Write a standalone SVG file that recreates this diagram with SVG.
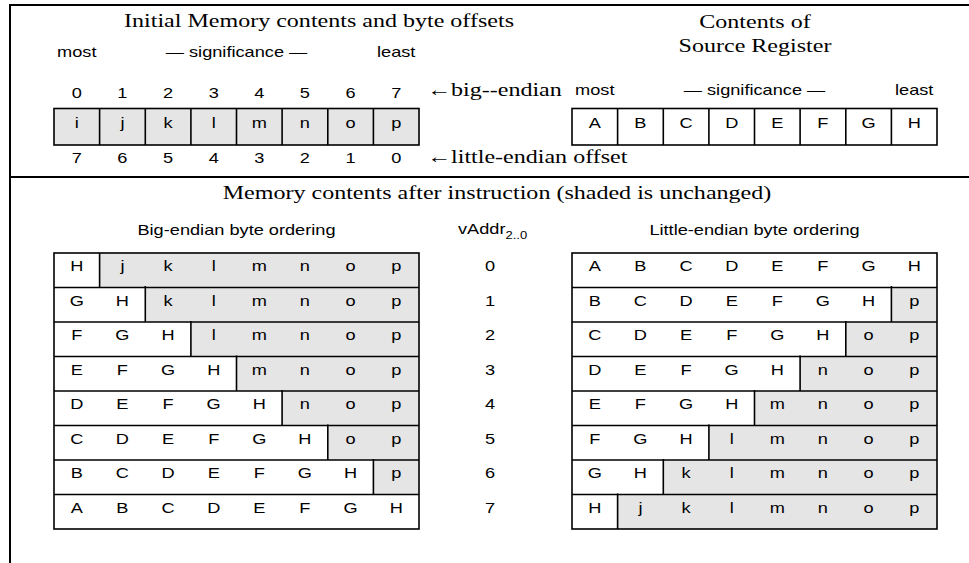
<svg xmlns="http://www.w3.org/2000/svg" width="969" height="563" viewBox="0 0 969 563">
<style>
.s{font-family:"Liberation Sans",Arial,sans-serif;font-size:14px;text-anchor:middle;fill:#000}
.sl{font-family:"Liberation Sans",Arial,sans-serif;font-size:14px;text-anchor:start;fill:#000}
.t{font-family:"Liberation Serif","Times New Roman",serif;font-size:18.5px;text-anchor:middle;fill:#000}
.tl{font-family:"Liberation Serif","Times New Roman",serif;font-size:18.5px;text-anchor:start;fill:#000}
.frame{stroke:#000;stroke-width:2;fill:none}
.box{stroke:#000;stroke-width:1.6;fill:none}
.sh{fill:#e5e5e5;stroke:none}
.dv{stroke:#000;stroke-width:1.6}
</style>
<g id="frame">
<line class="frame" x1="10" y1="5" x2="969" y2="5"/>
<line class="frame" x1="10" y1="4" x2="10" y2="563"/>
<line class="frame" x1="10" y1="177" x2="969" y2="177"/>
</g>
<g id="headings">
<text class="t" transform="matrix(1.3 0 0 1 319 27)">Initial Memory contents and byte offsets</text>
<text class="t" transform="matrix(1.3 0 0 1 755 28)">Contents of</text>
<text class="t" transform="matrix(1.3 0 0 1 755 52)">Source Register</text>
<text class="s" transform="matrix(1.3 0 0 1 76.8 57)">most</text>
<text class="s" transform="matrix(1.3 0 0 1 236.5 57)">— significance —</text>
<text class="s" transform="matrix(1.3 0 0 1 396.2 57)">least</text>
<text class="s" transform="matrix(1.3 0 0 1 594.8 95)">most</text>
<text class="s" transform="matrix(1.3 0 0 1 754.5 95)">— significance —</text>
<text class="s" transform="matrix(1.3 0 0 1 914.2 95)">least</text>
<text class="tl" transform="matrix(1.3 0 0 1 427 96)">←big--endian</text>
<text class="tl" transform="matrix(1.3 0 0 1 427 163)">←little-endian offset</text>
<text class="t" transform="matrix(1.3 0 0 1 497 199)">Memory contents after instruction (shaded is unchanged)</text>
<text class="s" transform="matrix(1.3 0 0 1 236.5 235)">Big-endian byte ordering</text>
<text class="sl" transform="matrix(1.3 0 0 1 458 234)">vAddr<tspan font-size="10" dy="5">2..0</tspan></text>
<text class="s" transform="matrix(1.3 0 0 1 754.5 235)">Little-endian byte ordering</text>
</g>
<g id="offsets">
<text class="s" transform="matrix(1.3 0 0 1 76.8 98)">0</text>
<text class="s" transform="matrix(1.3 0 0 1 122.4 98)">1</text>
<text class="s" transform="matrix(1.3 0 0 1 168.1 98)">2</text>
<text class="s" transform="matrix(1.3 0 0 1 213.7 98)">3</text>
<text class="s" transform="matrix(1.3 0 0 1 259.3 98)">4</text>
<text class="s" transform="matrix(1.3 0 0 1 304.9 98)">5</text>
<text class="s" transform="matrix(1.3 0 0 1 350.6 98)">6</text>
<text class="s" transform="matrix(1.3 0 0 1 396.2 98)">7</text>
<text class="s" transform="matrix(1.3 0 0 1 76.8 163)">7</text>
<text class="s" transform="matrix(1.3 0 0 1 122.4 163)">6</text>
<text class="s" transform="matrix(1.3 0 0 1 168.1 163)">5</text>
<text class="s" transform="matrix(1.3 0 0 1 213.7 163)">4</text>
<text class="s" transform="matrix(1.3 0 0 1 259.3 163)">3</text>
<text class="s" transform="matrix(1.3 0 0 1 304.9 163)">2</text>
<text class="s" transform="matrix(1.3 0 0 1 350.6 163)">1</text>
<text class="s" transform="matrix(1.3 0 0 1 396.2 163)">0</text>
</g>
<g id="initial-memory">
<rect class="sh" x="54" y="108.5" width="365" height="36.5"/>
<rect class="box" x="54" y="108.5" width="365" height="36.5"/>
<path class="dv" d="M99.6 108.5V145M145.3 108.5V145M190.9 108.5V145M236.5 108.5V145M282.1 108.5V145M327.8 108.5V145M373.4 108.5V145"/>
<text class="s" transform="matrix(1.3 0 0 1 76.8 128)">i</text>
<text class="s" transform="matrix(1.3 0 0 1 122.4 128)">j</text>
<text class="s" transform="matrix(1.3 0 0 1 168.1 128)">k</text>
<text class="s" transform="matrix(1.3 0 0 1 213.7 128)">l</text>
<text class="s" transform="matrix(1.3 0 0 1 259.3 128)">m</text>
<text class="s" transform="matrix(1.3 0 0 1 304.9 128)">n</text>
<text class="s" transform="matrix(1.3 0 0 1 350.6 128)">o</text>
<text class="s" transform="matrix(1.3 0 0 1 396.2 128)">p</text>
</g>
<g id="source-register">
<rect class="box" x="572" y="108.5" width="365" height="36.5" fill="#fff"/>
<path class="dv" d="M617.6 108.5V145M663.3 108.5V145M708.9 108.5V145M754.5 108.5V145M800.1 108.5V145M845.8 108.5V145M891.4 108.5V145"/>
<text class="s" transform="matrix(1.3 0 0 1 594.8 128)">A</text>
<text class="s" transform="matrix(1.3 0 0 1 640.4 128)">B</text>
<text class="s" transform="matrix(1.3 0 0 1 686.1 128)">C</text>
<text class="s" transform="matrix(1.3 0 0 1 731.7 128)">D</text>
<text class="s" transform="matrix(1.3 0 0 1 777.3 128)">E</text>
<text class="s" transform="matrix(1.3 0 0 1 822.9 128)">F</text>
<text class="s" transform="matrix(1.3 0 0 1 868.6 128)">G</text>
<text class="s" transform="matrix(1.3 0 0 1 914.2 128)">H</text>
</g>
<g id="vaddr">
<text class="s" transform="matrix(1.3 0 0 1 490 271)">0</text>
<text class="s" transform="matrix(1.3 0 0 1 490 305.5)">1</text>
<text class="s" transform="matrix(1.3 0 0 1 490 340)">2</text>
<text class="s" transform="matrix(1.3 0 0 1 490 374.5)">3</text>
<text class="s" transform="matrix(1.3 0 0 1 490 409)">4</text>
<text class="s" transform="matrix(1.3 0 0 1 490 443.5)">5</text>
<text class="s" transform="matrix(1.3 0 0 1 490 478)">6</text>
<text class="s" transform="matrix(1.3 0 0 1 490 512.5)">7</text>
</g>
<g id="big-endian-table">
<rect class="sh" x="99.6" y="253" width="319.4" height="34.5"/>
<rect class="sh" x="145.3" y="287.5" width="273.7" height="34.5"/>
<rect class="sh" x="190.9" y="322" width="228.1" height="34.5"/>
<rect class="sh" x="236.5" y="356.5" width="182.5" height="34.5"/>
<rect class="sh" x="282.1" y="391" width="136.9" height="34.5"/>
<rect class="sh" x="327.8" y="425.5" width="91.2" height="34.5"/>
<rect class="sh" x="373.4" y="460" width="45.6" height="34.5"/>
<rect class="box" x="54" y="253" width="365" height="276"/>
<path class="dv" d="M54 287.5H419M54 322H419M54 356.5H419M54 391H419M54 425.5H419M54 460H419M54 494.5H419"/>
<path class="dv" d="M99.6 253V287.5M145.3 286V322M190.9 321V356.5M236.5 355.5V391M282.1 390V425.5M327.8 424.5V460M373.4 459V494.5"/>
<g class="s">
<text class="s" transform="matrix(1.3 0 0 1 76.8 271)">H</text><text class="s" transform="matrix(1.3 0 0 1 122.4 271)">j</text><text class="s" transform="matrix(1.3 0 0 1 168.1 271)">k</text><text class="s" transform="matrix(1.3 0 0 1 213.7 271)">l</text><text class="s" transform="matrix(1.3 0 0 1 259.3 271)">m</text><text class="s" transform="matrix(1.3 0 0 1 304.9 271)">n</text><text class="s" transform="matrix(1.3 0 0 1 350.6 271)">o</text><text class="s" transform="matrix(1.3 0 0 1 396.2 271)">p</text>
<text class="s" transform="matrix(1.3 0 0 1 76.8 305.5)">G</text><text class="s" transform="matrix(1.3 0 0 1 122.4 305.5)">H</text><text class="s" transform="matrix(1.3 0 0 1 168.1 305.5)">k</text><text class="s" transform="matrix(1.3 0 0 1 213.7 305.5)">l</text><text class="s" transform="matrix(1.3 0 0 1 259.3 305.5)">m</text><text class="s" transform="matrix(1.3 0 0 1 304.9 305.5)">n</text><text class="s" transform="matrix(1.3 0 0 1 350.6 305.5)">o</text><text class="s" transform="matrix(1.3 0 0 1 396.2 305.5)">p</text>
<text class="s" transform="matrix(1.3 0 0 1 76.8 340)">F</text><text class="s" transform="matrix(1.3 0 0 1 122.4 340)">G</text><text class="s" transform="matrix(1.3 0 0 1 168.1 340)">H</text><text class="s" transform="matrix(1.3 0 0 1 213.7 340)">l</text><text class="s" transform="matrix(1.3 0 0 1 259.3 340)">m</text><text class="s" transform="matrix(1.3 0 0 1 304.9 340)">n</text><text class="s" transform="matrix(1.3 0 0 1 350.6 340)">o</text><text class="s" transform="matrix(1.3 0 0 1 396.2 340)">p</text>
<text class="s" transform="matrix(1.3 0 0 1 76.8 374.5)">E</text><text class="s" transform="matrix(1.3 0 0 1 122.4 374.5)">F</text><text class="s" transform="matrix(1.3 0 0 1 168.1 374.5)">G</text><text class="s" transform="matrix(1.3 0 0 1 213.7 374.5)">H</text><text class="s" transform="matrix(1.3 0 0 1 259.3 374.5)">m</text><text class="s" transform="matrix(1.3 0 0 1 304.9 374.5)">n</text><text class="s" transform="matrix(1.3 0 0 1 350.6 374.5)">o</text><text class="s" transform="matrix(1.3 0 0 1 396.2 374.5)">p</text>
<text class="s" transform="matrix(1.3 0 0 1 76.8 409)">D</text><text class="s" transform="matrix(1.3 0 0 1 122.4 409)">E</text><text class="s" transform="matrix(1.3 0 0 1 168.1 409)">F</text><text class="s" transform="matrix(1.3 0 0 1 213.7 409)">G</text><text class="s" transform="matrix(1.3 0 0 1 259.3 409)">H</text><text class="s" transform="matrix(1.3 0 0 1 304.9 409)">n</text><text class="s" transform="matrix(1.3 0 0 1 350.6 409)">o</text><text class="s" transform="matrix(1.3 0 0 1 396.2 409)">p</text>
<text class="s" transform="matrix(1.3 0 0 1 76.8 443.5)">C</text><text class="s" transform="matrix(1.3 0 0 1 122.4 443.5)">D</text><text class="s" transform="matrix(1.3 0 0 1 168.1 443.5)">E</text><text class="s" transform="matrix(1.3 0 0 1 213.7 443.5)">F</text><text class="s" transform="matrix(1.3 0 0 1 259.3 443.5)">G</text><text class="s" transform="matrix(1.3 0 0 1 304.9 443.5)">H</text><text class="s" transform="matrix(1.3 0 0 1 350.6 443.5)">o</text><text class="s" transform="matrix(1.3 0 0 1 396.2 443.5)">p</text>
<text class="s" transform="matrix(1.3 0 0 1 76.8 478)">B</text><text class="s" transform="matrix(1.3 0 0 1 122.4 478)">C</text><text class="s" transform="matrix(1.3 0 0 1 168.1 478)">D</text><text class="s" transform="matrix(1.3 0 0 1 213.7 478)">E</text><text class="s" transform="matrix(1.3 0 0 1 259.3 478)">F</text><text class="s" transform="matrix(1.3 0 0 1 304.9 478)">G</text><text class="s" transform="matrix(1.3 0 0 1 350.6 478)">H</text><text class="s" transform="matrix(1.3 0 0 1 396.2 478)">p</text>
<text class="s" transform="matrix(1.3 0 0 1 76.8 512.5)">A</text><text class="s" transform="matrix(1.3 0 0 1 122.4 512.5)">B</text><text class="s" transform="matrix(1.3 0 0 1 168.1 512.5)">C</text><text class="s" transform="matrix(1.3 0 0 1 213.7 512.5)">D</text><text class="s" transform="matrix(1.3 0 0 1 259.3 512.5)">E</text><text class="s" transform="matrix(1.3 0 0 1 304.9 512.5)">F</text><text class="s" transform="matrix(1.3 0 0 1 350.6 512.5)">G</text><text class="s" transform="matrix(1.3 0 0 1 396.2 512.5)">H</text>
</g>
</g>
<g id="little-endian-table">
<rect class="sh" x="891.4" y="287.5" width="45.6" height="34.5"/>
<rect class="sh" x="845.8" y="322" width="91.2" height="34.5"/>
<rect class="sh" x="800.1" y="356.5" width="136.9" height="34.5"/>
<rect class="sh" x="754.5" y="391" width="182.5" height="34.5"/>
<rect class="sh" x="708.9" y="425.5" width="228.1" height="34.5"/>
<rect class="sh" x="663.3" y="460" width="273.7" height="34.5"/>
<rect class="sh" x="617.6" y="494.5" width="319.4" height="34.5"/>
<rect class="box" x="572" y="253" width="365" height="276"/>
<path class="dv" d="M572 287.5H937M572 322H937M572 356.5H937M572 391H937M572 425.5H937M572 460H937M572 494.5H937"/>
<path class="dv" d="M891.4 286V322M845.8 321V356.5M800.1 355.5V391M754.5 390V425.5M708.9 424.5V460M663.3 459V494.5M617.6 493.5V529"/>
<g>
<text class="s" transform="matrix(1.3 0 0 1 594.8 271)">A</text><text class="s" transform="matrix(1.3 0 0 1 640.4 271)">B</text><text class="s" transform="matrix(1.3 0 0 1 686.1 271)">C</text><text class="s" transform="matrix(1.3 0 0 1 731.7 271)">D</text><text class="s" transform="matrix(1.3 0 0 1 777.3 271)">E</text><text class="s" transform="matrix(1.3 0 0 1 822.9 271)">F</text><text class="s" transform="matrix(1.3 0 0 1 868.6 271)">G</text><text class="s" transform="matrix(1.3 0 0 1 914.2 271)">H</text>
<text class="s" transform="matrix(1.3 0 0 1 594.8 305.5)">B</text><text class="s" transform="matrix(1.3 0 0 1 640.4 305.5)">C</text><text class="s" transform="matrix(1.3 0 0 1 686.1 305.5)">D</text><text class="s" transform="matrix(1.3 0 0 1 731.7 305.5)">E</text><text class="s" transform="matrix(1.3 0 0 1 777.3 305.5)">F</text><text class="s" transform="matrix(1.3 0 0 1 822.9 305.5)">G</text><text class="s" transform="matrix(1.3 0 0 1 868.6 305.5)">H</text><text class="s" transform="matrix(1.3 0 0 1 914.2 305.5)">p</text>
<text class="s" transform="matrix(1.3 0 0 1 594.8 340)">C</text><text class="s" transform="matrix(1.3 0 0 1 640.4 340)">D</text><text class="s" transform="matrix(1.3 0 0 1 686.1 340)">E</text><text class="s" transform="matrix(1.3 0 0 1 731.7 340)">F</text><text class="s" transform="matrix(1.3 0 0 1 777.3 340)">G</text><text class="s" transform="matrix(1.3 0 0 1 822.9 340)">H</text><text class="s" transform="matrix(1.3 0 0 1 868.6 340)">o</text><text class="s" transform="matrix(1.3 0 0 1 914.2 340)">p</text>
<text class="s" transform="matrix(1.3 0 0 1 594.8 374.5)">D</text><text class="s" transform="matrix(1.3 0 0 1 640.4 374.5)">E</text><text class="s" transform="matrix(1.3 0 0 1 686.1 374.5)">F</text><text class="s" transform="matrix(1.3 0 0 1 731.7 374.5)">G</text><text class="s" transform="matrix(1.3 0 0 1 777.3 374.5)">H</text><text class="s" transform="matrix(1.3 0 0 1 822.9 374.5)">n</text><text class="s" transform="matrix(1.3 0 0 1 868.6 374.5)">o</text><text class="s" transform="matrix(1.3 0 0 1 914.2 374.5)">p</text>
<text class="s" transform="matrix(1.3 0 0 1 594.8 409)">E</text><text class="s" transform="matrix(1.3 0 0 1 640.4 409)">F</text><text class="s" transform="matrix(1.3 0 0 1 686.1 409)">G</text><text class="s" transform="matrix(1.3 0 0 1 731.7 409)">H</text><text class="s" transform="matrix(1.3 0 0 1 777.3 409)">m</text><text class="s" transform="matrix(1.3 0 0 1 822.9 409)">n</text><text class="s" transform="matrix(1.3 0 0 1 868.6 409)">o</text><text class="s" transform="matrix(1.3 0 0 1 914.2 409)">p</text>
<text class="s" transform="matrix(1.3 0 0 1 594.8 443.5)">F</text><text class="s" transform="matrix(1.3 0 0 1 640.4 443.5)">G</text><text class="s" transform="matrix(1.3 0 0 1 686.1 443.5)">H</text><text class="s" transform="matrix(1.3 0 0 1 731.7 443.5)">l</text><text class="s" transform="matrix(1.3 0 0 1 777.3 443.5)">m</text><text class="s" transform="matrix(1.3 0 0 1 822.9 443.5)">n</text><text class="s" transform="matrix(1.3 0 0 1 868.6 443.5)">o</text><text class="s" transform="matrix(1.3 0 0 1 914.2 443.5)">p</text>
<text class="s" transform="matrix(1.3 0 0 1 594.8 478)">G</text><text class="s" transform="matrix(1.3 0 0 1 640.4 478)">H</text><text class="s" transform="matrix(1.3 0 0 1 686.1 478)">k</text><text class="s" transform="matrix(1.3 0 0 1 731.7 478)">l</text><text class="s" transform="matrix(1.3 0 0 1 777.3 478)">m</text><text class="s" transform="matrix(1.3 0 0 1 822.9 478)">n</text><text class="s" transform="matrix(1.3 0 0 1 868.6 478)">o</text><text class="s" transform="matrix(1.3 0 0 1 914.2 478)">p</text>
<text class="s" transform="matrix(1.3 0 0 1 594.8 512.5)">H</text><text class="s" transform="matrix(1.3 0 0 1 640.4 512.5)">j</text><text class="s" transform="matrix(1.3 0 0 1 686.1 512.5)">k</text><text class="s" transform="matrix(1.3 0 0 1 731.7 512.5)">l</text><text class="s" transform="matrix(1.3 0 0 1 777.3 512.5)">m</text><text class="s" transform="matrix(1.3 0 0 1 822.9 512.5)">n</text><text class="s" transform="matrix(1.3 0 0 1 868.6 512.5)">o</text><text class="s" transform="matrix(1.3 0 0 1 914.2 512.5)">p</text>
</g>
</g>
</svg>
